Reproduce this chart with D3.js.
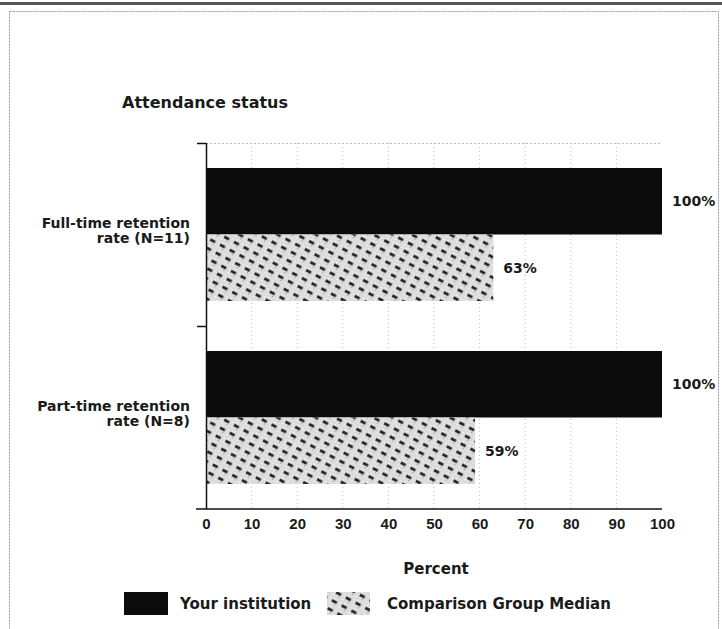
<!DOCTYPE html>
<html><head><meta charset="utf-8">
<script src="https://cdn.jsdelivr.net/npm/d3@7"></script>
<style>
html,body{margin:0;padding:0;background:#fff;}
svg{display:block;}
text{font-family:"DejaVu Sans","Liberation Sans",Arial,sans-serif;font-weight:bold;fill:#1a1a1a;}
.tick text{font-family:"Liberation Sans Narrow","Liberation Sans",Arial,sans-serif;}
</style></head>
<body>
<script>
// ---- data ----
const categories = ["Full-time retention rate (N=11)", "Part-time retention rate (N=8)"];
const categoryLines = [["Full-time retention", "rate (N=11)"], ["Part-time retention", "rate (N=8)"]];
const seriesNames = ["Your institution", "Comparison Group Median"];
const yourInstitution = [100, 100];
const comparisonMedian = [63, 59];
const xTicks = [0, 10, 20, 30, 40, 50, 60, 70, 80, 90, 100];
const chartTitle = "Attendance status";
const xTitle = "Percent";

const W = 722, H = 629;
const svg = d3.select("body").append("svg").attr("width", W).attr("height", H);

// hatch pattern
const defs = svg.append("defs");
const pat = defs.append("pattern").attr("id", "hatch").attr("patternUnits", "userSpaceOnUse")
  .attr("width", 11).attr("height", 9).attr("patternTransform", "rotate(28)");
pat.append("rect").attr("width", 11).attr("height", 9).attr("fill", "#dcdcdc");
pat.append("rect").attr("x", 1).attr("y", 1).attr("width", 1).attr("height", 1).attr("fill", "#fff");
pat.append("rect").attr("x", 8).attr("y", 2).attr("width", 1).attr("height", 1).attr("fill", "#fff");
pat.append("rect").attr("x", 9).attr("y", 7).attr("width", 1).attr("height", 1).attr("fill", "#fff");
pat.append("rect").attr("x", 4).attr("y", 7).attr("width", 1).attr("height", 1).attr("fill", "#8a8a8a");
pat.append("line").attr("x1", 0).attr("x2", 5.5).attr("y1", 4.5).attr("y2", 4.5)
  .attr("stroke", "#1a1a1a").attr("stroke-width", 2.6);

// frame
svg.append("rect").attr("x", 0).attr("y", 2).attr("width", W).attr("height", 3).attr("fill", "#555");
svg.append("rect").attr("x", 9.5).attr("y", 11.5).attr("width", 709).attr("height", 640)
  .attr("fill", "none").attr("stroke", "#999").attr("stroke-dasharray", "2,1");

// scales
const x = d3.scaleLinear().domain([0, 100]).range([206, 662]);
const y = d3.scaleBand().domain(categories).range([143, 509]).paddingInner(0).paddingOuter(0);
const ySub = d3.scaleBand().domain(seriesNames).range([25, 158]);
const colors = {"Your institution": "#0b0b0b", "Comparison Group Median": "url(#hatch)"};

// title
svg.append("text").attr("x", 122).attr("y", 108).attr("font-size", 16).text(chartTitle);

// gridlines
const g = svg.append("g");
g.selectAll("line.grid").data(xTicks.filter(d => d > 0 && d < 100)).join("line")
  .attr("x1", d => x(d)).attr("x2", d => x(d)).attr("y1", 143).attr("y2", 509)
  .attr("stroke", "#bbb").attr("stroke-dasharray", "1,3");
g.append("line").attr("x1", x(0)).attr("x2", x(100)).attr("y1", 143.5).attr("y2", 143.5)
  .attr("stroke", "#bbb").attr("stroke-dasharray", "2,2");

// bars
const rows = categories.map((c, i) => ({c, vals: [
  {s: seriesNames[0], v: yourInstitution[i]},
  {s: seriesNames[1], v: comparisonMedian[i]}]}));
const rg = svg.selectAll("g.row").data(rows).join("g").attr("transform", d => `translate(0,${y(d.c)})`);
rg.selectAll("rect").data(d => d.vals).join("rect")
  .attr("x", x(0)).attr("y", d => ySub(d.s)).attr("width", d => x(d.v) - x(0))
  .attr("height", ySub.bandwidth()).attr("fill", d => colors[d.s]);
rg.selectAll("text.val").data(d => d.vals).join("text").attr("class", "val")
  .attr("x", d => x(d.v) + 10).attr("y", d => ySub(d.s) + ySub.bandwidth() / 2)
  .attr("dy", "0.36em").attr("font-size", 14).text(d => d.v + "%");

// category labels
rg.each(function(d, i) {
  const t = d3.select(this).append("text").attr("text-anchor", "end").attr("font-size", 14)
    .attr("transform", `translate(190,${y.bandwidth() / 2 - 12})`);
  categoryLines[i].forEach((ln, j) => t.append("tspan").attr("x", 0).attr("dy", j === 0 ? "0.36em" : "1.1em").text(ln));
});

// axes
svg.append("line").attr("x1", 206.5).attr("x2", 206.5).attr("y1", 143).attr("y2", 509).attr("stroke", "#111").attr("stroke-width", 1.5);
svg.selectAll("line.ytick").data([143, 326]).join("line")
  .attr("x1", 197).attr("x2", 206).attr("y1", d => d + 0.5).attr("y2", d => d + 0.5).attr("stroke", "#111").attr("stroke-width", 1.5);
const xa = svg.append("g").attr("transform", "translate(0,509)")
  .call(d3.axisBottom(x).tickValues(xTicks).tickSize(0).tickPadding(9));
xa.select(".domain").remove();
xa.selectAll("text").attr("font-size", 15).attr("font-family", null).attr("fill", "#1a1a1a");
svg.append("line").attr("x1", 196).attr("x2", 662).attr("y1", 509).attr("y2", 509).attr("stroke", "#111").attr("stroke-width", 1.5);

svg.append("text").attr("x", 436).attr("y", 574).attr("text-anchor", "middle").attr("font-size", 15).text(xTitle);

// legend
const leg = svg.append("g").attr("transform", "translate(0,592)");
const legItems = [{s: seriesNames[0], sx: 124, sw: 44, tx: 180}, {s: seriesNames[1], sx: 327, sw: 43, tx: 387}];
leg.selectAll("rect").data(legItems).join("rect")
  .attr("x", d => d.sx).attr("y", 0).attr("width", d => d.sw).attr("height", 23).attr("fill", d => colors[d.s]);
leg.selectAll("text").data(legItems).join("text")
  .attr("x", d => d.tx).attr("y", 11.5).attr("dy", "0.36em").attr("font-size", 15).text(d => d.s);
</script>
</body></html>
